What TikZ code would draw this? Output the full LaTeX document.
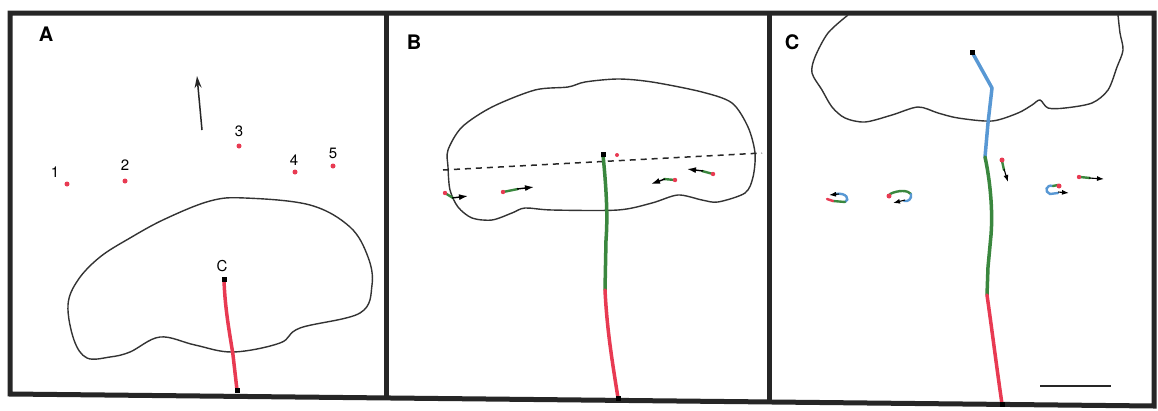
\documentclass[tikz,border=0pt]{standalone}
\usepackage{fontspec}
\setmainfont{TeX Gyre Heros}
\usetikzlibrary{arrows.meta}
\definecolor{tred}{RGB}{232,58,82}
\definecolor{tgreen}{RGB}{58,135,62}
\definecolor{tblue}{RGB}{88,152,212}
\begin{document}
\begin{tikzpicture}[x=1pt,y=-1pt,
  frame/.style={draw=black!85,line width=5pt},
  outline/.style={draw=black!80,line width=1.4pt},
  lbl/.style={font=\bfseries\fontsize{20}{20}\selectfont,inner sep=0pt},
  num/.style={font=\fontsize{15}{15}\selectfont,inner sep=0pt},
  trk/.style={line width=3.5pt,line cap=round},
  stk/.style={line width=2.4pt,line cap=round},
  arr/.style={draw=black,line width=1.4pt,-{Latex[length=9pt,width=6pt]}},
  sarr/.style={draw=black,line width=1.1pt,-{Latex[length=7pt,width=5pt]}},
  sq/.style={fill=black,minimum size=5pt,inner sep=0pt}]
\useasboundingbox (0,0) rectangle (1158,410);
\fill[white] (0,0) rectangle (1158,410);
% frames
\draw[frame,line join=miter] (10,13) -- (1154,13) -- (1154,406) -- (10,394) -- cycle;
\draw[frame] (386,13) -- (386,399);
\draw[frame] (769,13) -- (769,404);
% labels
\node[lbl] (la) at (46,34) {A};
\node[lbl] (lb) at (414,42) {B};
\node[lbl] (lc) at (792,42) {C};
% ---------- Panel A ----------
\draw[outline] plot[smooth cycle,tension=0.6] coordinates {
 (245,198) (310,205) (350,227) (368,257) (372,285) (360,313) (300,328)
 (280,343) (233,352) (195,345) (160,337) (130,352) (110,357) (87,358)
 (74,340) (68,305) (78,280) (100,257) (130,238) (165,219) (210,201)};
\draw[black!85,line width=1.5pt,-{Stealth[length=12pt,width=7pt]}] (202,130) -- (197,76);
\foreach \n/\x/\y/\dx/\dy in {1/55/172/67/184, 2/125/165/125/181, 3/239/131/239/146, 4/294/160/295/172, 5/333/153/333/166}{
  \node[num] (n\n) at (\x,\y) {\n};
  \fill[tred] (\dx,\dy) circle (2.5pt);
}
\node[num] (cA) at (222,266) {C};
\draw[tred,trk] (224,280) .. controls (225,310) and (230,335) .. (233,355) -- (237,390);
\node[sq] (a1) at (224,279) {};
\node[sq] (a2) at (237,390) {};
% ---------- Panel B ----------
\draw[outline] plot[smooth cycle,tension=0.5] coordinates {
 (448,150) (462,127) (492,107) (535,90) (568,87) (585,82) (618,79) (652,82)
 (702,92) (732,103) (748,127) (755,153) (753,177) (745,193) (718,202)
 (702,200) (678,195) (652,203) (618,210) (552,210) (525,208) (512,213)
 (492,220) (472,218) (458,207) (450,190) (448,167)};
\draw[black!85,line width=1.5pt,dash pattern=on 6pt off 5pt] (443,170) -- (762,153);
\draw[tgreen,trk] (603,155) .. controls (606,185) and (608,215) .. (606,240) -- (605,290);
\draw[tred,trk] (605,290) .. controls (607,330) and (612,360) .. (618,398);
\node[sq] (b1) at (603,154) {};
\node[sq] (b2) at (618,398) {};
\fill[tred] (617,155) circle (2pt);
% tracks B
\draw[tgreen,stk] (445,193) -- (453,198); \fill[tred] (445,193) circle (2.2pt);
\draw[arr] (452,198) -- (468,196);
\draw[tgreen,stk] (503,192) -- (518,189); \fill[tred] (503,192) circle (2.2pt);
\draw[arr] (517,189) -- (534,187);
\draw[tgreen,stk] (675,180) -- (664,179); \fill[tred] (675,180) circle (2.2pt);
\draw[arr] (665,179) -- (651,184);
\draw[tgreen,stk] (713,174) -- (702,171); \fill[tred] (713,174) circle (2.2pt);
\draw[arr] (703,171) -- (687,169);
% ---------- Panel C ----------
\draw[outline] plot[smooth,tension=0.5] coordinates {
 (848,15) (828,33) (815,57) (812,73) (822,90) (832,107) (845,118) (865,122)
 (892,115) (918,107) (938,113) (958,118) (992,121) (1018,113) (1032,105)
 (1040,100) (1048,108) (1065,108) (1092,103) (1108,90) (1117,67) (1123,50)
 (1120,33) (1118,15)};
\draw[tblue,trk,line join=round] (972,52) -- (992,88) -- (988,123) -- (985,157);
\draw[tgreen,trk] (985,157) .. controls (990,180) and (993,210) .. (991,235) -- (988,267) -- (987,295);
\draw[tred,trk] (987,295) .. controls (992,330) and (997,370) .. (1002,404);
\node[sq] (c1) at (972,52) {};
\node[sq] (c2) at (1002,404) {};
% tracks C
\draw[tgreen,stk] (1002,161) -- (1004,170); \fill[tred] (1002,160) circle (2.5pt);
\draw[sarr] (1004,169) -- (1008,182);
% loop 1
\draw[tblue,stk] (835,194) .. controls (847,192) and (850,200) .. (845,202);
\draw[tgreen,stk] (845,202) -- (833,201);
\draw[tred,stk] (833,201) -- (827,199);
\draw[sarr] (839,194) -- (829,195);
% loop 2
\draw[tgreen,stk] (890,194) .. controls (898,190) and (908,190) .. (911,194);
\draw[tblue,stk] (911,194) .. controls (912,199) and (908,202) .. (904,201);
\fill[tred] (889,196) circle (2.5pt);
\draw[sarr] (905,200) -- (893,203);
% loop 3
\draw[tblue,stk] (1053,186) .. controls (1046,184) and (1044,192) .. (1050,194) -- (1058,193);
\draw[tgreen,stk] (1053,186) -- (1058,185);
\fill[tred] (1059,186) circle (2.5pt);
\draw[sarr] (1058,192) -- (1069,193);
% track
\draw[tgreen,stk] (1080,177) -- (1090,178); \fill[tred] (1079,177) circle (2.2pt);
\draw[sarr] (1089,178) -- (1104,179);
% scale bar
\draw[black!85,line width=1.3pt] (1040,386) -- (1111,386);
\end{tikzpicture}
\end{document}
